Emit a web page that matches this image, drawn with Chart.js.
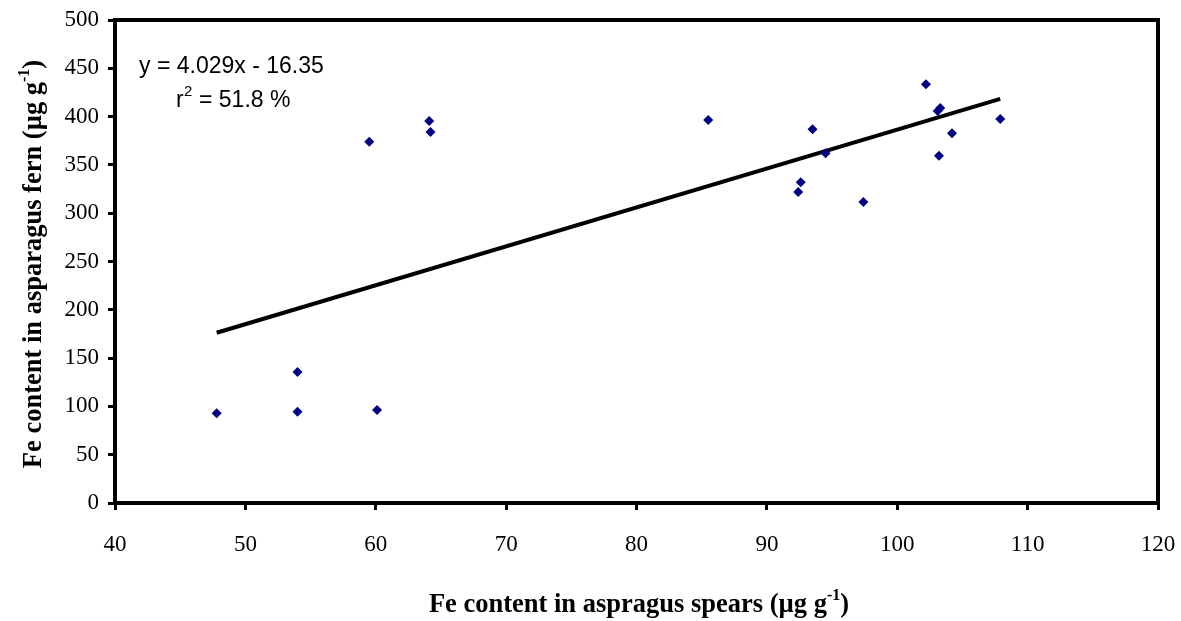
<!DOCTYPE html>
<html>
<head>
<meta charset="utf-8">
<script src="https://cdn.jsdelivr.net/npm/chart.js@4"></script>
<style>
  html, body { margin: 0; padding: 0; background: #fff; }
  #wrap { width: 1181px; height: 621px; }
</style>
</head>
<body>
<div id="wrap"><canvas id="myChart" width="1181" height="621"></canvas></div>
<script>
// data
var spearFe = [47.8, 54.0, 54.0, 59.5, 60.1, 64.1, 64.2, 85.5, 92.4, 92.6, 93.5, 94.5, 97.4, 102.2, 103.1, 103.3, 103.2, 104.2, 107.9];
var fernFe = [93, 94.5, 135.6, 374, 96.3, 395.4, 384, 396.5, 322, 332, 387, 362, 311.6, 433.4, 405.8, 409, 359.5, 382.7, 397.5];

// regression line printed on the chart
var slope = 4.029;
var intercept = -16.35;
var trendX = [47.8, 107.9];

var eqLines = ["y = 4.029x - 16.35", "= 51.8 %"];
var xTitle = "Fe content in aspragus spears (µg g";
var yTitle = "Fe content in asparagus fern (µg g";

var points = spearFe.map(function (x, i) { return { x: x, y: fernFe[i] }; });
var trend = trendX.map(function (x) { return { x: x, y: slope * x + intercept }; });

var serifFam = '"Liberation Serif", "Times New Roman", serif';
var sansFam = '"Liberation Sans", Arial, sans-serif';

// draws box, titles with superscripts, and the equation
const extras = {
    id: 'extras',
    afterDraw(chart) {
        const ctx = chart.ctx;
        const a = chart.chartArea;
        ctx.save();
        ctx.strokeStyle = '#000';
        ctx.lineWidth = 4;
        ctx.strokeRect(a.left, a.top, a.right - a.left, a.bottom - a.top);

        // equation
        ctx.fillStyle = '#000';
        ctx.font = '23px ' + sansFam;
        ctx.textBaseline = 'alphabetic';
        ctx.textAlign = 'left';
        ctx.fillText(eqLines[0], 139, 73);
        ctx.fillText('r', 176, 107);
        ctx.font = '15px ' + sansFam;
        ctx.fillText('2', 184, 96);
        ctx.font = '23px ' + sansFam;
        ctx.fillText(eqLines[1], 199, 107);

        // titles with -1 superscript
        const big = 'bold 26.5px ' + serifFam;
        const small = 'bold 16px ' + serifFam;
        const drawTitle = (txt, cx, cy) => {
            ctx.font = big;
            const w1 = ctx.measureText(txt).width;
            const w3 = ctx.measureText(')').width;
            ctx.font = small;
            const w2 = ctx.measureText('-1').width;
            let x = cx - (w1 + w2 + w3) / 2;
            ctx.font = big;
            ctx.fillText(txt, x, cy);
            ctx.fillText(')', x + w1 + w2, cy);
            ctx.font = small;
            ctx.fillText('-1', x + w1, cy - 12);
        };
        drawTitle(xTitle, 639, 612);
        ctx.translate(41, 264);
        ctx.rotate(-Math.PI / 2);
        drawTitle(yTitle, 0, 0);
        ctx.restore();
    }
};

// keep tick labels from pushing the plot area in
const noOverhang = s => {
    s.paddingLeft = 0; s.paddingRight = 0;
    s.paddingTop = 0; s.paddingBottom = 0;
};

let mychart = new Chart("myChart", {
    type: "scatter",
    data: {
        datasets: [{
            data: points,
            pointStyle: 'rectRot',
            pointRadius: 5,
            pointHoverRadius: 5,
            backgroundColor: '#000080',
            borderColor: '#000080',
            borderWidth: 0
        }, {
            type: 'line',
            data: trend,
            borderColor: '#000',
            borderWidth: 4,
            pointRadius: 0,
            fill: false
        }]
    },
    options: {
        responsive: false,
        animation: false,
        layout: { padding: { top: 20, right: 23, left: 0, bottom: 0 } },
        plugins: { legend: { display: false }, tooltip: { enabled: false } },
        scales: {
            x: {
                type: 'linear',
                min: 40, max: 120,
                afterFit: s => { s.height = 118; noOverhang(s); },
                border: { display: true, color: '#000', width: 4 },
                grid: { drawOnChartArea: false, drawTicks: true, tickLength: 7, color: '#000', lineWidth: 3 },
                ticks: { stepSize: 10, color: '#000', padding: 21, font: { family: serifFam, size: 23 } }
            },
            y: {
                min: 0, max: 500,
                afterFit: s => { s.width = 115; noOverhang(s); },
                border: { display: true, color: '#000', width: 4 },
                grid: { drawOnChartArea: false, drawTicks: true, tickLength: 7, color: '#000', lineWidth: 3 },
                ticks: { stepSize: 50, color: '#000', padding: 9, font: { family: serifFam, size: 23 } }
            }
        }
    },
    plugins: [extras]
});
</script>
</body>
</html>
